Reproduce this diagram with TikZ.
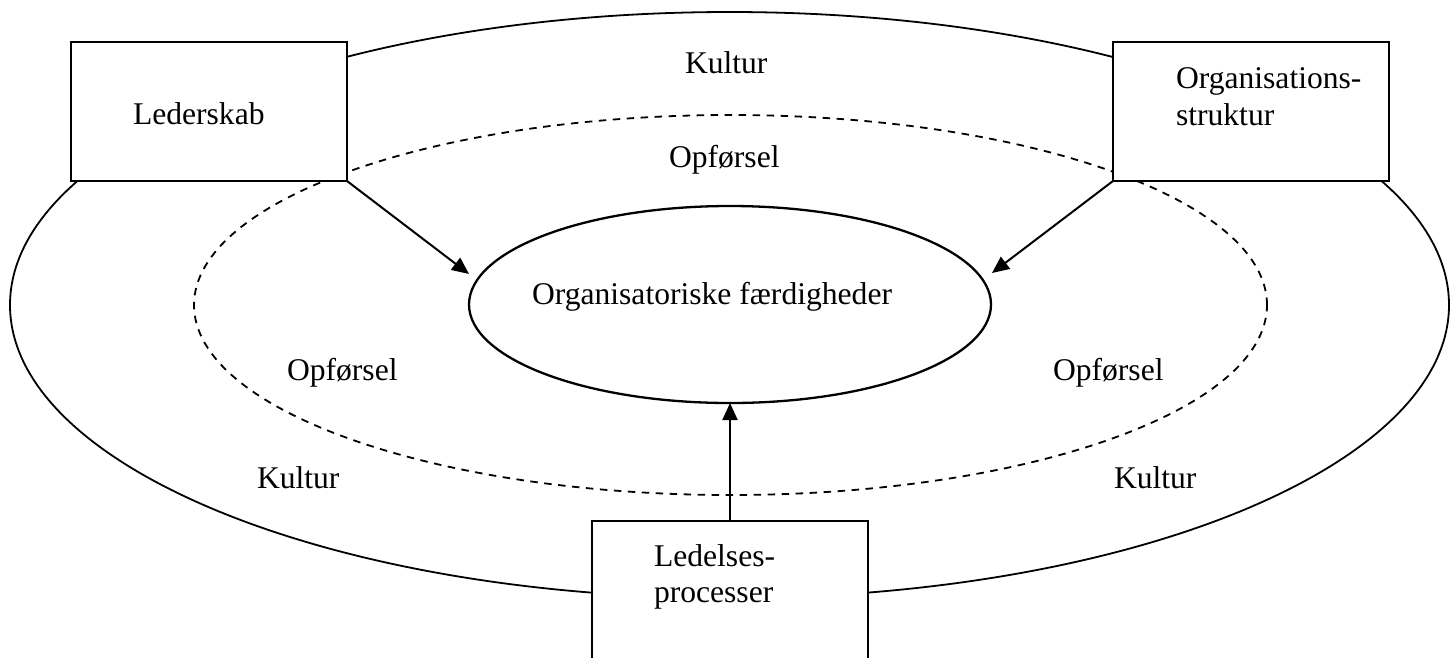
\documentclass[tikz,border=0pt]{standalone}
\usepackage{fontspec}
\setmainfont{Liberation Serif}
\usetikzlibrary{arrows.meta,shapes.geometric}
\begin{document}
\begin{tikzpicture}[x=1pt,y=-1pt,
  lbl/.style={anchor=base west, inner sep=0pt, outer sep=0pt, font=\fontsize{31.6}{37}\selectfont},
  boxnode/.style={draw, fill=white, rectangle, line width=2pt, minimum width=276pt, minimum height=139pt, inner sep=0pt, outer sep=0pt},
  conn/.style={line width=2pt, -{Triangle[length=17pt,width=15pt]}},
  ring/.style={line width=1.8pt},
  dashring/.style={line width=1.8pt, dash pattern=on 7.5pt off 6.5pt}
]
\useasboundingbox (0,0) rectangle (1456,657);
\clip (0,0) rectangle (1456,657);
% rings
\draw[ring] (729.5,305) ellipse [x radius=719.5pt, y radius=293pt];
\draw[dashring] (730.5,305) ellipse [x radius=536.5pt, y radius=190pt];
\node[draw, ellipse, line width=2.3pt, minimum width=522pt, minimum height=197pt, inner sep=0pt, outer sep=0pt] (skills) at (730,304.5) {};
% boxes
\node[boxnode] (lead) at (209,111.5) {};
\node[boxnode] (org) at (1251,111.5) {};
\node[boxnode, minimum height=199pt] (proc) at (730,620.5) {};
% connectors
\coordinate (tipL) at (469,274);
\coordinate (tipR) at (992,273);
\draw[conn] (lead.south east) -- (tipL);
\draw[conn] (org.south west) -- (tipR);
\draw[conn] (proc.north) -- (skills.south);
% labels
\node[lbl] (tk) at (685,73) {Kultur};
\node[lbl] (to) at (669,167) {Opførsel};
\node[lbl] (lo) at (287,380) {Opførsel};
\node[lbl] (lk) at (257,488) {Kultur};
\node[lbl] (ro) at (1053,380) {Opførsel};
\node[lbl] (rk) at (1114,488) {Kultur};
\node[lbl] (tlead) at (133,124) {Lederskab};
\node[lbl] (torg1) at (1176,88) {Organisations-};
\node[lbl] (torg2) at (1176,125) {struktur};
\node[lbl] (tproc1) at (654,566) {Ledelses-};
\node[lbl] (tproc2) at (654,602) {processer};
\node[lbl] (tskills) at (532,304) {Organisatoriske færdigheder};
\end{tikzpicture}
\end{document}
